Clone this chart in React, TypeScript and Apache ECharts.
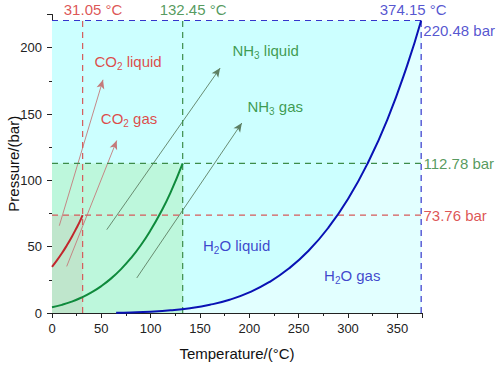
import React, { useEffect, useRef } from "react";
import * as echarts from "echarts";

// Critical points
const CO2_TC = 31.05;
const CO2_PC = 73.76;
const NH3_TC = 132.45;
const NH3_PC = 112.78;
const H2O_TC = 374.15;
const H2O_PC = 220.48;

// Vapour pressure curves [T °C, P bar]
const co2Curve: number[][] = [
  [0, 34.85], [5, 39.7], [10, 45.0], [15, 50.9], [20, 57.3], [25, 64.3], [28, 68.7], [31.05, 73.76],
];
const nh3Curve: number[][] = [
  [0, 4.3], [10, 6.15], [20, 8.57], [30, 11.67], [40, 15.55], [50, 20.3], [60, 26.1], [70, 33.1],
  [80, 41.4], [90, 51.1], [100, 62.5], [110, 75.6], [120, 90.6], [132.45, 112.78],
];
const h2oCurve: number[][] = [
  [65, 0.25], [80, 0.47], [100, 1.01], [120, 1.99], [140, 3.61], [160, 6.18], [180, 10.0],
  [200, 15.5], [220, 23.2], [240, 33.5], [260, 46.9], [280, 64.2], [300, 85.9], [320, 112.9],
  [340, 146.0], [360, 186.7], [374.15, 220.48],
];

// Arrows [start, end] in data coords
const co2Arrows: number[][][] = [
  [[7.4, 65.8], [51.7, 175.8]],
  [[14.9, 35.1], [65.6, 130]],
];
const nh3Arrows: number[][][] = [
  [[55.5, 62.8], [170.4, 184.6]],
  [[85.9, 26.4], [192.4, 143.2]],
];

const X_TICKS = { min: 0, max: 375, interval: 50 };
const Y_TICKS = { min: 0, max: 225, interval: 50 };

const RED = "#e01a17";
const GREEN = "#17821f";
const BLUE = "#1414c0";
const FONT = "'Liberation Sans', Arial, sans-serif";

function sub(color: string) {
  return {
    a: { fontSize: 15, color, fontFamily: FONT, lineHeight: 20, verticalAlign: "middle" },
    s: { fontSize: 10, color, fontFamily: FONT, lineHeight: 10, verticalAlign: "bottom" },
  };
}

function rectSeries(name: string, x: number, y: number, color: string, z: number) {
  return {
    name,
    type: "line",
    data: [[0, y], [x, y]],
    symbol: "none",
    lineStyle: { width: 0, opacity: 0 },
    areaStyle: { color, opacity: 1 },
    z,
    silent: true,
  };
}

function dashed(name: string, data: number[][], color: string) {
  return {
    name,
    type: "line",
    data,
    symbol: "none",
    lineStyle: { color, width: 1.2, type: [6, 5] },
    z: 5,
    silent: true,
  };
}

function arrows(name: string, list: number[][][], lineColor: string, headColor: string) {
  return {
    name,
    type: "line",
    data: [],
    z: 7,
    markLine: {
      silent: true,
      symbol: ["none", "arrow"],
      symbolSize: [6, 9],
      label: { show: false },
      lineStyle: { color: lineColor, width: 0.9, type: "solid" },
      itemStyle: { color: headColor },
      data: list.map((p) => [
        { coord: p[0], lineStyle: { color: lineColor }, itemStyle: { color: headColor } },
        { coord: p[1], itemStyle: { color: headColor } },
      ]),
    },
  };
}

export default function App() {
  const ref = useRef<HTMLDivElement>(null);
  useEffect(() => {
    if (!ref.current) return;
    const chart = echarts.init(ref.current, undefined, { renderer: "svg" });

    const labelPoint = (x: number, y: number, text: string, color: string, align = "center") => ({
      value: [x, y],
      label: {
        show: true,
        position: "inside",
        align,
        formatter: text,
        rich: sub(color),
        color,
        fontSize: 15,
        fontFamily: FONT,
      },
    });

    const axisCommon = {
      type: "value",
      nameLocation: "middle",
      nameMoveOverlap: false,
      nameTextStyle: { fontSize: 15, color: "#111", fontFamily: FONT },
      axisLine: { show: true, onZero: false, lineStyle: { color: "#222", width: 1 } },
      axisTick: { show: true, inside: false, length: 5, lineStyle: { color: "#222" } },
      minorTick: { show: true, splitNumber: 2, length: 3, lineStyle: { color: "#222" } },
      splitLine: { show: false },
    };

    chart.setOption({
      animation: false,
      grid: { left: 52, right: 78, top: 14.5, bottom: 54, containLabel: false, outerBoundsMode: "none" },
      xAxis: {
        ...axisCommon,
        ...X_TICKS,
        name: "Temperature/(°C)",
        nameGap: 33,
        axisLabel: { fontSize: 13, color: "#222", margin: 9, fontFamily: FONT, showMaxLabel: false },
      },
      yAxis: {
        ...axisCommon,
        ...Y_TICKS,
        name: "Pressure/(bar)",
        nameGap: 31,
        axisLabel: { fontSize: 13, color: "#222", margin: 10, fontFamily: FONT, showMaxLabel: false },
      },
      series: [
        rectSeries("bg", H2O_TC, H2O_PC, "#ccffff", 1),
        {
          name: "h2oGas",
          type: "line",
          data: h2oCurve,
          symbol: "none",
          smooth: true,
          lineStyle: { width: 0, opacity: 0 },
          areaStyle: { color: "#e2ffff", opacity: 1 },
          z: 2,
          silent: true,
        },
        rectSeries("nh3Region", NH3_TC, NH3_PC, "#bdf7dc", 3),
        rectSeries("co2Region", CO2_TC, CO2_PC, "#bfe6cc", 4),
        dashed("co2V", [[CO2_TC, 0], [CO2_TC, H2O_PC]], "#d65a5a"),
        dashed("co2H", [[0, CO2_PC], [H2O_TC, CO2_PC]], "#d65a5a"),
        dashed("nh3V", [[NH3_TC, 0], [NH3_TC, H2O_PC]], "#3c8c4a"),
        dashed("nh3H", [[0, NH3_PC], [H2O_TC, NH3_PC]], "#3c8c4a"),
        dashed("h2oH", [[0, H2O_PC], [H2O_TC, H2O_PC]], "#3535cc"),
        dashed("h2oV", [[H2O_TC, 0], [H2O_TC, H2O_PC]], "#3535cc"),
        {
          name: "CO2",
          type: "line",
          data: co2Curve,
          symbol: "none",
          smooth: true,
          lineStyle: { color: "#c1272d", width: 2 },
          z: 6,
        },
        {
          name: "NH3",
          type: "line",
          data: nh3Curve,
          symbol: "none",
          smooth: true,
          lineStyle: { color: "#0f8a3c", width: 2 },
          z: 6,
        },
        {
          name: "H2O",
          type: "line",
          data: h2oCurve,
          symbol: "none",
          smooth: true,
          lineStyle: { color: "#0a12b4", width: 2 },
          z: 6,
        },
        arrows("co2Arrows", co2Arrows, "#c47a7a", "#d9262b"),
        arrows("nh3Arrows", nh3Arrows, "#5d7f63", "#1e8a34"),
        {
          name: "labels",
          type: "scatter",
          clip: false,
          symbolSize: 0,
          silent: true,
          z: 9,
          data: [
            labelPoint(77.1, 189.3, "{a|CO}{s|2}{a| liquid}", RED),
            labelPoint(78.1, 146.9, "{a|CO}{s|2}{a| gas}", RED),
            labelPoint(216.5, 197.7, "{a|NH}{s|3}{a| liquid}", GREEN),
            labelPoint(226.2, 155.5, "{a|NH}{s|3}{a| gas}", GREEN),
            labelPoint(187.1, 50.7, "{a|H}{s|2}{a|O liquid}", BLUE),
            labelPoint(304.3, 28.1, "{a|H}{s|2}{a|O gas}", BLUE),
            labelPoint(41.6, 228.6, "{a|31.05 °C}", "#d42a2a"),
            labelPoint(143, 228.6, "{a|132.45 °C}", "#2a7f34"),
            labelPoint(366.1, 228.6, "{a|374.15 °C}", "#2a2ac4"),
            labelPoint(376.3, 212.7, "{a|220.48 bar}", "#2a2ac4", "left"),
            labelPoint(376.5, NH3_PC, "{a|112.78 bar}", "#2a7f34", "left"),
            labelPoint(376.5, CO2_PC, "{a|73.76 bar}", "#d42a2a", "left"),
          ],
        },
      ],
    });
    return () => chart.dispose();
  }, []);
  return <div ref={ref} style={{ width: 500, height: 367, position: "absolute", left: 0, top: 0 }} />;
}
